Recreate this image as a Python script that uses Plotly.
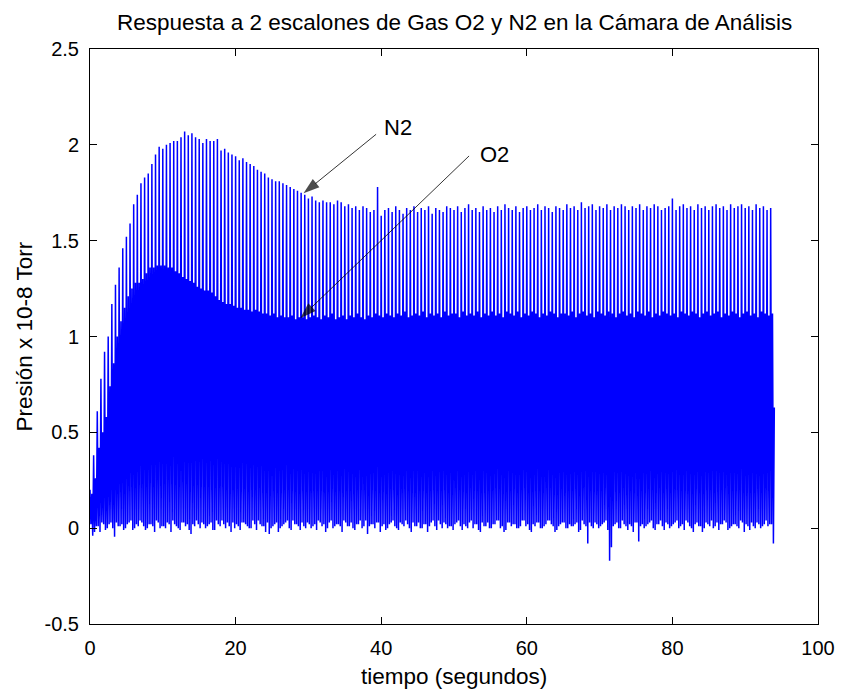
import plotly.graph_objects as go

# ---------------- data ----------------
CYCLE = 0.5          # seconds per N2/O2 cycle
# N2 peak of each cycle (t = 0, 0.5, 1.0, ...)
N2_PEAKS = [
    0.20, 0.38, 0.61, 0.78, 0.92, 1.00, 1.17, 1.27, 1.36, 1.46,
    1.52, 1.59, 1.69, 1.74, 1.80, 1.83, 1.85, 1.90, 1.95, 1.99,
    1.98, 2.00, 2.01, 2.02, 2.02, 2.04, 2.07, 2.05, 2.06, 2.04,
    2.03, 2.01, 2.03, 2.02, 2.02, 2.03, 1.97, 1.98, 1.96, 1.95,
    1.94, 1.92, 1.93, 1.91, 1.90, 1.89, 1.87, 1.86, 1.85, 1.83,
    1.82, 1.81, 1.81, 1.80, 1.79, 1.78, 1.77, 1.76, 1.75, 1.74,
    1.72, 1.73, 1.71, 1.70, 1.71, 1.70, 1.70, 1.69, 1.71, 1.70,
    1.68, 1.69, 1.67, 1.68, 1.66, 1.68, 1.67, 1.65, 1.66, 1.78,
    1.63, 1.66, 1.67, 1.65, 1.68, 1.66, 1.64, 1.67, 1.66, 1.68,
    1.65, 1.67, 1.66, 1.68, 1.64, 1.67, 1.66, 1.65, 1.68, 1.67,
    1.66, 1.68, 1.65, 1.67, 1.69, 1.66, 1.67, 1.65, 1.68, 1.66,
    1.67, 1.65, 1.68, 1.66, 1.69, 1.67, 1.66, 1.68, 1.65, 1.67,
    1.68, 1.66, 1.67, 1.69, 1.66, 1.68, 1.67, 1.65, 1.68, 1.67,
    1.66, 1.69, 1.67, 1.68, 1.66, 1.70, 1.67, 1.68, 1.69, 1.66,
    1.68, 1.67, 1.69, 1.66, 1.68, 1.67, 1.69, 1.68, 1.66, 1.68,
    1.67, 1.69, 1.66, 1.68, 1.67, 1.69, 1.68, 1.66, 1.67, 1.68,
    1.72, 1.66, 1.68, 1.69, 1.67, 1.68, 1.66, 1.69, 1.67, 1.68,
    1.66, 1.68, 1.69, 1.67, 1.68, 1.66, 1.69, 1.67, 1.68, 1.69,
    1.67, 1.68, 1.66, 1.69, 1.67, 1.68, 1.66, 1.67,
]
# O2 peak of each cycle
O2_PEAKS = [
    0.18, 0.26, 0.42, 0.50, 0.58, 0.74, 0.86, 1.00, 1.08, 1.15,
    1.21, 1.25, 1.28, 1.28, 1.30, 1.33, 1.36, 1.36, 1.37, 1.37,
    1.37, 1.36, 1.36, 1.34, 1.33, 1.31, 1.30, 1.29, 1.28, 1.26,
    1.25, 1.24, 1.24, 1.23, 1.21, 1.19, 1.18, 1.17, 1.17, 1.16,
    1.15, 1.15, 1.14, 1.14, 1.13, 1.14, 1.13, 1.12, 1.12, 1.11,
    1.12, 1.10, 1.11, 1.10, 1.10, 1.11, 1.09, 1.10, 1.10, 1.09,
    1.10, 1.11, 1.10, 1.09, 1.11, 1.10, 1.12, 1.09, 1.10, 1.11,
    1.09, 1.11, 1.10, 1.12, 1.10, 1.09, 1.11, 1.10, 1.12, 1.11,
    1.10, 1.12, 1.11, 1.10, 1.12, 1.11, 1.13, 1.10, 1.11, 1.12,
    1.11, 1.13, 1.10, 1.12, 1.11, 1.12, 1.10, 1.13, 1.11, 1.12,
    1.12, 1.10, 1.13, 1.11, 1.12, 1.11, 1.13, 1.10, 1.12, 1.11,
    1.13, 1.11, 1.12, 1.10, 1.13, 1.12, 1.11, 1.13, 1.10, 1.12,
    1.11, 1.13, 1.12, 1.10, 1.12, 1.11, 1.13, 1.12, 1.10, 1.12,
    1.12, 1.11, 1.13, 1.10, 1.12, 1.13, 1.11, 1.12, 1.10, 1.13,
    1.12, 1.11, 1.13, 1.12, 1.10, 1.12, 1.13, 1.11, 1.12, 1.10,
    1.13, 1.12, 1.11, 1.13, 1.10, 1.12, 1.11, 1.13, 1.12, 1.11,
    1.12, 1.10, 1.13, 1.12, 1.11, 1.13, 1.12, 1.10, 1.12, 1.13,
    1.11, 1.12, 1.13, 1.10, 1.12, 1.11, 1.13, 1.12, 1.10, 1.12,
    1.13, 1.11, 1.12, 1.10, 1.13, 1.12, 1.11, 1.12,
]
# baseline value after the N2 peak of each cycle
BASE_A = [
    0.02, -0.02, 0.01, 0.03, -0.01, 0.02, 0.00, 0.03, 0.01, -0.01,
    0.02, 0.04, 0.00, 0.01, 0.03, -0.01, 0.02, 0.01, 0.04, 0.00,
    0.01, 0.03, -0.02, 0.02, 0.00, 0.03, 0.01, -0.01, 0.02, 0.04,
    0.00, 0.02, 0.01, 0.03, -0.01, 0.02, 0.04, 0.00, 0.01, 0.03,
    0.02, -0.01, 0.03, 0.01, 0.00, 0.02, 0.04, 0.01, -0.02, -0.03,
    0.01, 0.03, 0.00, 0.02, 0.04, -0.01, 0.02, 0.01, 0.03, 0.00,
    0.02, 0.01, -0.01, 0.03, 0.02, 0.00, 0.04, 0.01, 0.02, -0.02,
    0.03, 0.01, 0.00, 0.02, 0.04, 0.01, -0.03, 0.02, 0.00, 0.03,
    0.01, -0.01, 0.02, 0.04, 0.00, 0.03, 0.01, 0.02, -0.02, 0.01,
    0.03, 0.00, 0.02, 0.01, 0.04, -0.01, 0.02, 0.03, 0.00, 0.01,
    0.02, 0.04, -0.01, 0.01, 0.03, 0.00, 0.02, -0.02, 0.01, 0.03,
    0.00, 0.02, 0.04, 0.01, -0.01, 0.03, 0.02, 0.00, 0.01, 0.04,
    0.02, -0.02, 0.01, 0.03, 0.00, 0.02, 0.04, 0.01, -0.01, 0.02,
    0.03, 0.00, 0.01, 0.02, -0.02, 0.04, 0.01, 0.03, 0.00, 0.02,
    0.01, 0.03, -0.01, -0.10, 0.02, 0.00, 0.04, 0.01, 0.02, -0.02,
    0.03, 0.01, 0.00, 0.02, 0.04, -0.01, 0.02, 0.01, 0.03, 0.00,
    0.02, 0.04, 0.01, -0.01, 0.03, 0.00, 0.02, 0.01, -0.02, 0.03,
    0.01, 0.00, 0.03, 0.02, 0.04, -0.01, 0.01, 0.02, 0.00, 0.03,
    0.02, -0.01, 0.01, 0.03, 0.00, 0.02, 0.01, 0.02,
]
# baseline value after the O2 peak of each cycle
BASE_B = [
    -0.04, 0.01, -0.02, 0.02, 0.00, 0.03, -0.045, 0.01, 0.02, 0.00,
    0.03, -0.01, 0.02, 0.04, 0.01, 0.00, 0.02, -0.02, 0.03, 0.01,
    0.00, 0.02, 0.04, 0.01, -0.01, 0.03, 0.02, -0.03, 0.01, 0.02,
    0.03, 0.00, 0.02, -0.01, 0.04, 0.01, 0.02, 0.03, -0.02, 0.00,
    0.01, 0.03, 0.02, 0.00, 0.04, -0.01, 0.02, 0.01, 0.03, 0.00,
    0.02, -0.02, 0.01, 0.03, 0.00, 0.04, 0.02, -0.01, 0.01, 0.03,
    0.00, 0.02, 0.04, 0.01, -0.02, 0.03, 0.00, 0.02, 0.01, 0.04,
    0.01, 0.03, -0.01, 0.02, 0.00, 0.04, 0.01, 0.02, 0.03, -0.02,
    0.02, 0.00, 0.03, 0.01, -0.01, 0.02, 0.04, 0.00, 0.03, 0.01,
    0.00, 0.02, -0.02, 0.03, 0.01, 0.04, 0.00, 0.02, 0.01, -0.01,
    0.03, 0.01, 0.02, 0.00, 0.04, 0.02, -0.01, 0.03, 0.01, 0.00,
    0.02, 0.04, 0.00, -0.02, 0.03, 0.01, 0.02, 0.00, 0.04, 0.01,
    -0.01, 0.02, 0.03, 0.00, 0.01, 0.04, 0.02, -0.02, 0.01, 0.03,
    0.00, 0.02, 0.01, 0.03, -0.01, 0.02, -0.08, 0.01, 0.03, 0.00,
    0.02, 0.04, -0.17, 0.01, 0.03, 0.00, 0.02, -0.01, 0.01, 0.03,
    -0.07, 0.02, 0.01, 0.03, 0.00, 0.02, 0.04, -0.01, 0.02, 0.01,
    0.03, 0.00, 0.02, 0.04, 0.01, -0.02, 0.03, 0.01, 0.00, 0.02,
    0.04, 0.01, -0.01, 0.02, 0.03, 0.00, 0.02, 0.01, 0.04, -0.02,
    0.01, 0.03, 0.00, 0.02, 0.01, 0.04, 0.02, -0.08,
]
LAST_VALUE = 0.63

X_TICKS = [0, 20, 40, 60, 80, 100]
Y_TICKS = [-0.5, 0, 0.5, 1, 1.5, 2, 2.5]
Y_TICKTEXT = ["-0.5", "0", "0.5", "1", "1.5", "2", "2.5"]

TITLE = "Respuesta a 2 escalones de Gas O2 y N2 en la Cámara de Análisis"
XLABEL = "tiempo (segundos)"
YLABEL = "Presión x 10-8 Torr"

# annotation arrows: (label, text pos, tail, tip)
ARROWS = [
    ("N2", (42.3, 2.088), (39.3, 2.055), (29.33, 1.747)),
    ("O2", (55.5, 1.947), (52.07, 1.942), (28.88, 1.095)),
]

# ---------------- build the sampled signal ----------------
n = min(len(N2_PEAKS), len(O2_PEAKS), len(BASE_A), len(BASE_B))
values = []
for i in range(n):
    values += [N2_PEAKS[i], BASE_A[i], O2_PEAKS[i], BASE_B[i]]
values.append(LAST_VALUE)
dt = CYCLE / 4
times = [k * dt for k in range(len(values))]

FONT = "Liberation Sans, Arial, Helvetica, sans-serif"
FS_TICK = 20
FS_TEXT = 22.5

fig = go.Figure()
fig.add_trace(go.Scatter(x=times, y=values, mode="lines",
                         line=dict(color="#0000FF", width=1.5),
                         hoverinfo="skip", showlegend=False))

annotations = []
for label, tpos, tail, tip in ARROWS:
    fig.add_trace(go.Scatter(
        x=[tail[0], tip[0]], y=[tail[1], tip[1]], mode="lines+markers",
        line=dict(color="black", width=0.8),
        marker=dict(symbol="arrow", size=[0, 17], angleref="previous",
                    color="black", line=dict(width=0)),
        hoverinfo="skip", showlegend=False))
    annotations.append(dict(x=tpos[0], y=tpos[1], xref="x", yref="y",
                            text=label, showarrow=False,
                            font=dict(family=FONT, size=22, color="black")))

annotations += [
    dict(text=TITLE, x=0.5, y=1, xref="paper", yref="paper",
         xanchor="center", yanchor="middle", yshift=27, showarrow=False,
         font=dict(family=FONT, size=FS_TEXT, color="black")),
    dict(text=XLABEL, x=0.5, y=0, xref="paper", yref="paper",
         xanchor="center", yanchor="middle", yshift=-52, showarrow=False,
         font=dict(family=FONT, size=FS_TEXT, color="black")),
    dict(text=YLABEL, x=0, y=0.5, xref="paper", yref="paper",
         xanchor="center", yanchor="middle", xshift=-66, textangle=-90,
         showarrow=False, font=dict(family=FONT, size=FS_TEXT, color="black")),
]

axis_common = dict(showline=True, linecolor="black", linewidth=1,
                   mirror="ticks", ticks="inside", ticklen=7,
                   tickcolor="black", tickwidth=1, showgrid=False,
                   zeroline=False,
                   tickfont=dict(family=FONT, size=FS_TICK, color="black"))

fig.update_layout(
    width=847, height=691,
    margin=dict(l=90, r=24, t=49, b=67, pad=0),
    paper_bgcolor="white", plot_bgcolor="white",
    xaxis=dict(range=[0, 100], tickvals=X_TICKS, ticklabelstandoff=6,
               **axis_common),
    yaxis=dict(range=[-0.5, 2.5], tickvals=Y_TICKS, ticktext=Y_TICKTEXT,
               ticklabelstandoff=6, **axis_common),
    annotations=annotations,
    showlegend=False,
)

fig.write_html("out.html")
